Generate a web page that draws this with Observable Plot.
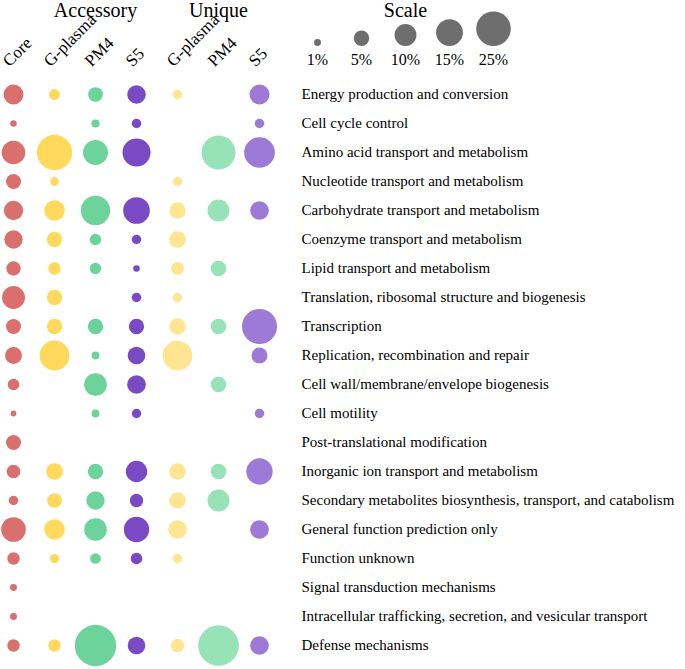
<!DOCTYPE html>
<html><head><meta charset="utf-8">
<script src="https://cdn.jsdelivr.net/npm/d3@7"></script>
<script src="https://cdn.jsdelivr.net/npm/@observablehq/plot@0.6"></script>
<style>
body{margin:0;background:#fff}
#wrap{position:relative;width:685px;height:669px}
#legend{position:absolute;left:0;top:0}
</style>
</head><body><div id="wrap"><div id="main"></div><div id="legend"></div></div>
<script>
const categories = [
  "Energy production and conversion",
  "Cell cycle control",
  "Amino acid transport and metabolism",
  "Nucleotide transport and metabolism",
  "Carbohydrate transport and metabolism",
  "Coenzyme transport and metabolism",
  "Lipid transport and metabolism",
  "Translation, ribosomal structure and biogenesis",
  "Transcription",
  "Replication, recombination and repair",
  "Cell wall/membrane/envelope biogenesis",
  "Cell motility",
  "Post-translational modification",
  "Inorganic ion transport and metabolism",
  "Secondary metabolites biosynthesis, transport, and catabolism",
  "General function prediction only",
  "Function unknown",
  "Signal transduction mechanisms",
  "Intracellular trafficking, secretion, and vesicular transport",
  "Defense mechanisms"
];
const columnKeys = ["Core","A-G","A-PM4","A-S5","U-G","U-PM4","U-S5"];
const columnLabels = ["Core","G-plasma","PM4","S5","G-plasma","PM4","S5"];
const columnColors = ["#d9706e","#ffd95c","#6cd49b","#7a4ac4","#ffe591","#98e2b7","#9c7ad6"];
const groupKeys = ["A-PM4","U-PM4"];
const groupLabels = ["Accessory","Unique"];

// percentages per category (null = no dot)
const core        = [8.3,0.9,11.6,4.7,7.8,7.0,4.3,11.0,4.7,6.0,2.8,0.7,4.7,3.9,1.9,12.7,3.2,1.0,1.0,3.2];
const accGplasma  = [2.5,null,26,1.6,8.9,4.9,3.2,4.9,4.9,18.8,null,null,null,5.8,4.5,8.9,1.7,null,null,3.2];
const accPM4      = [4.5,1.4,13,null,18,2.7,2.7,null,4.9,1.3,10.7,1.3,null,4.9,7.0,10.7,2.4,null,null,35.7];
const accS5       = [7.2,1.9,16.4,null,14.8,1.9,0.9,1.9,4.9,6.5,7.3,1.8,null,9.5,3.7,13.4,2.8,null,null,6.5];
const uniGplasma  = [1.8,null,null,1.7,5.6,5.8,3.5,1.9,5.6,18.4,null,null,null,5.6,5.6,7.3,1.8,null,null,3.7];
const uniPM4      = [null,null,24,null,10.1,null,5.1,null,5.1,null,5.1,null,null,5.1,10.1,null,null,null,null,34.5];
const uniS5       = [8.3,1.9,19.6,null,7.3,null,null,null,25.6,5.3,null,1.9,null,14.5,null,7.3,null,null,null,7.3];

const scaleValues = [1,5,10,15,25];
const scaleLabels = ["1%","5%","10%","15%","25%"];

const series = [core, accGplasma, accPM4, accS5, uniGplasma, uniPM4, uniS5];
const cells = series.flatMap((vals, j) => vals.map((v, i) => ({col: columnKeys[j], cat: categories[i], value: v})))
  .filter(d => d.value != null);

const font = "'Liberation Serif','Times New Roman',serif";
const rScale = {type: "sqrt", domain: [0, 25], range: [0, 17.3]};

const main = Plot.plot({
  width: 685, height: 669,
  marginTop: 66, marginRight: 390, marginLeft: 0, marginBottom: 0,
  style: {fontFamily: font, fontSize: "15px", color: "#000", background: "white"},
  x: {type: "point", domain: columnKeys, range: [12.7, 259], padding: 0, axis: null},
  y: {type: "point", domain: categories, range: [90, 648.6], padding: 0, axis: null},
  r: rScale,
  color: {type: "ordinal", domain: columnKeys, range: columnColors},
  marks: [
    Plot.dot(cells, {x: "col", y: "cat", r: "value", fill: "col", stroke: "none"}),
    Plot.axisY({anchor: "right", tickSize: 0, tickPadding: 6, label: null, fontSize: 15, textAnchor: "start"}),
    Plot.text(columnKeys, {x: d => d, text: (d, i) => columnLabels[i], frameAnchor: "top", rotate: -45,
      textAnchor: "start", lineAnchor: "bottom", dx: -4, dy: 1, fontSize: 17, fill: "#000"}),
    Plot.text(groupKeys, {x: d => d, text: (d, i) => groupLabels[i], frameAnchor: "top",
      lineAnchor: "bottom", dy: -50, fontSize: 20, fill: "#000"})
  ]
});
document.getElementById("main").append(main);

const legend = Plot.plot({
  width: 685, height: 70,
  marginTop: 0, marginBottom: 6, marginLeft: 0, marginRight: 0,
  style: {fontFamily: font, fontSize: "16px", background: "transparent", color: "#000"},
  x: {type: "point", domain: scaleLabels, range: [316, 494], padding: 0, axis: null},
  y: {type: "sqrt", domain: [0, 25], range: [45.5, 28.2], axis: null},
  r: rScale,
  marks: [
    Plot.dot(scaleValues, {x: (d, i) => scaleLabels[i], y: d => d, r: d => d, fill: "#6e6e6e", stroke: "none"}),
    Plot.text(scaleLabels, {x: d => d, text: d => d, frameAnchor: "bottom", lineAnchor: "bottom", fontSize: 16, fill: "#000"}),
    Plot.text(["Scale"], {x: () => "10%", text: d => d, frameAnchor: "top", lineAnchor: "bottom", dy: 16, fontSize: 20, fill: "#000"})
  ]
});
document.getElementById("legend").append(legend);
</script>
</body></html>
